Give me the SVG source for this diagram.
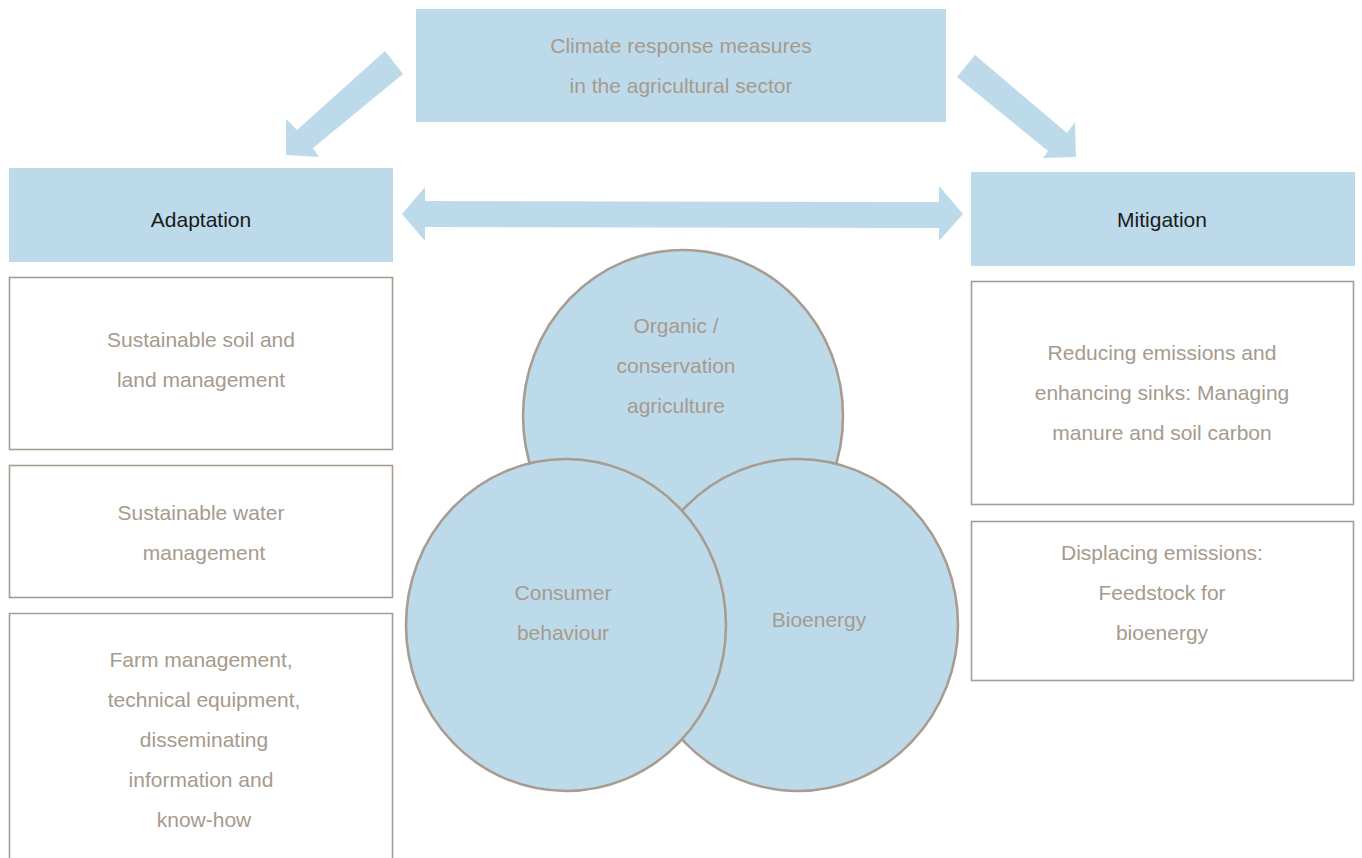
<svg xmlns="http://www.w3.org/2000/svg" width="1362" height="858" viewBox="0 0 1362 858">
<style>
.band{fill:#bddaeb}
.box{fill:#ffffff;stroke:#a89c90;stroke-width:1.6}
.circ{fill:#bddaeb;stroke:#a89c90;stroke-width:2.6}
.arr{fill:#bddaeb}
text{font-family:"Liberation Sans",Arial,sans-serif;font-size:21px;fill:#a69a8c;text-anchor:middle}
.dark{fill:#1a1a1a}
</style>
<rect width="1362" height="858" fill="#ffffff"/>
<g id="connectors">
<polygon class="arr" points="385,51 403,74 313,148 319,157 286,155 286,119 297,130"/>
<polygon class="arr" points="975,55 957,77 1048,151 1043,158 1076,157 1075,122 1067,133"/>
<polygon class="arr" points="402,214 425,187 425,201 939,202 939,186 963,214 939,241 939,228 425,227 425,241"/>
</g>
<g id="node-climate">
<rect class="band" x="416" y="9" width="530" height="113"/>
<text x="681" y="53">Climate response measures</text>
<text x="681" y="93">in the agricultural sector</text>
</g>
<g id="node-adaptation">
<rect class="band" x="9" y="168" width="384" height="94"/>
<text class="dark" x="201" y="227">Adaptation</text>
</g>
<g id="node-mitigation">
<rect class="band" x="971" y="172" width="384" height="94"/>
<text class="dark" x="1162" y="227">Mitigation</text>
</g>
<g id="node-soil">
<rect class="box" x="9.5" y="277.5" width="383" height="172"/>
<text x="201" y="347">Sustainable soil and</text>
<text x="201" y="387">land management</text>
</g>
<g id="node-water">
<rect class="box" x="9.5" y="465.5" width="383" height="132"/>
<text x="201" y="520">Sustainable water</text>
<text x="204" y="560">management</text>
</g>
<g id="node-farm">
<path class="box" d="M9.5,860 V613.5 H392.5 V860"/>
<text x="201" y="667">Farm management,</text>
<text x="204" y="707">technical equipment,</text>
<text x="204" y="747">disseminating</text>
<text x="201" y="787">information and</text>
<text x="204" y="827">know-how</text>
</g>
<g id="node-reducing">
<rect class="box" x="971.5" y="281.5" width="382" height="223"/>
<text x="1162" y="360">Reducing emissions and</text>
<text x="1162" y="400">enhancing sinks: Managing</text>
<text x="1162" y="440">manure and soil carbon</text>
</g>
<g id="node-displacing">
<rect class="box" x="971.5" y="521.5" width="382" height="159"/>
<text x="1162" y="560">Displacing emissions:</text>
<text x="1162" y="600">Feedstock for</text>
<text x="1162" y="640">bioenergy</text>
</g>
<g id="node-organic">
<ellipse class="circ" cx="683" cy="416" rx="160" ry="166"/>
<text x="676" y="333">Organic /</text>
<text x="676" y="373">conservation</text>
<text x="676" y="413">agriculture</text>
</g>
<g id="node-bioenergy">
<ellipse class="circ" cx="798" cy="625" rx="160" ry="166"/>
<text x="819" y="627">Bioenergy</text>
</g>
<g id="node-consumer">
<ellipse class="circ" cx="566" cy="625" rx="160" ry="166"/>
<text x="563" y="600">Consumer</text>
<text x="563" y="640">behaviour</text>
</g>
</svg>
